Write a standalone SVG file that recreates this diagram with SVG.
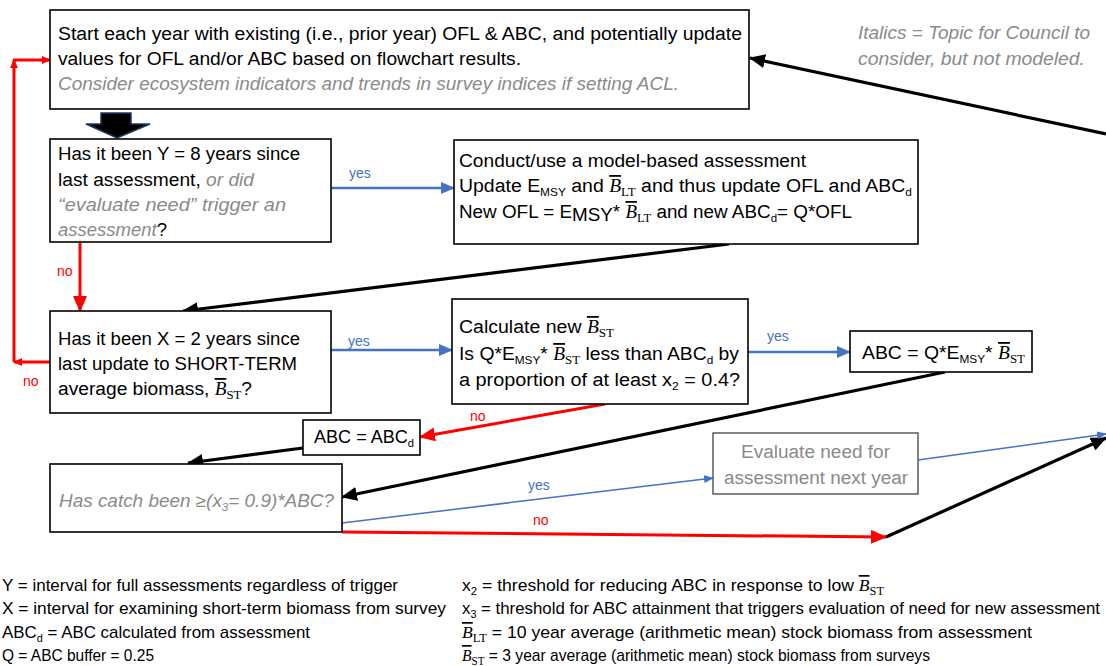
<svg xmlns="http://www.w3.org/2000/svg" width="1106" height="666" viewBox="0 0 1106 666">
<style>
.box{fill:#fff;stroke:#000;stroke-width:1.6}
.t{font-family:"Liberation Sans",Arial,sans-serif;font-size:18px;fill:#000}
.g{fill:#8a8a8a;font-style:italic}
.gr{fill:#8a8a8a}
.bb{font-family:"Liberation Serif","Times New Roman",serif;font-style:italic;text-decoration:overline}
.s{font-size:11px}
.ss{font-family:"Liberation Serif","Times New Roman",serif;font-size:12px;font-style:normal}
.lg{font-family:"Liberation Sans",Arial,sans-serif;font-size:17px;fill:#000}
.yes{font-family:"Liberation Sans",Arial,sans-serif;font-size:14px;fill:#4472C4}
.no{font-family:"Liberation Sans",Arial,sans-serif;font-size:14px;fill:#FF0000}
.k{stroke:#000;stroke-width:3.2;fill:none}
.r{stroke:#FF0000;stroke-width:3;fill:none}
.bl{stroke:#4472C4;stroke-width:2.6;fill:none}
.blt{stroke:#4472C4;stroke-width:1.5;fill:none}
</style>
<defs>
<marker id="ak" markerUnits="userSpaceOnUse" markerWidth="16" markerHeight="14" refX="15" refY="7" orient="auto"><path d="M0,0 L16,7 L0,14 z" fill="#000"/></marker>
<marker id="ar" markerUnits="userSpaceOnUse" markerWidth="16" markerHeight="14" refX="15" refY="7" orient="auto"><path d="M0,0 L16,7 L0,14 z" fill="#FF0000"/></marker>
<marker id="ars" markerUnits="userSpaceOnUse" markerWidth="9" markerHeight="8" refX="8" refY="4" orient="auto"><path d="M0,0 L9,4 L0,8 z" fill="#FF0000"/></marker>
<marker id="ab" markerUnits="userSpaceOnUse" markerWidth="14" markerHeight="12" refX="13" refY="6" orient="auto"><path d="M0,0 L14,6 L0,12 z" fill="#4472C4"/></marker>
<marker id="abs" markerUnits="userSpaceOnUse" markerWidth="10" markerHeight="8" refX="9" refY="4" orient="auto"><path d="M0,0 L10,4 L0,8 z" fill="#4472C4"/></marker>
</defs>

<g id="connectors">
<line class="bl" x1="331" y1="188" x2="454" y2="188" marker-end="url(#ab)"/>
<text class="yes" x="349" y="178">yes</text>
<line class="r" x1="80" y1="242" x2="80" y2="311" marker-end="url(#ar)"/>
<text class="no" x="57" y="276">no</text>
<line class="k" x1="729" y1="244" x2="183" y2="311" marker-end="url(#ak)"/>
<line class="bl" x1="331" y1="350" x2="452" y2="350" marker-end="url(#ab)"/>
<text class="yes" x="348" y="346">yes</text>
<line class="r" x1="50" y1="362" x2="14" y2="362" marker-end="url(#ars)"/>
<line class="r" x1="14" y1="362" x2="14" y2="60" marker-end="url(#ars)"/>
<line class="r" x1="13" y1="60" x2="50" y2="60" marker-end="url(#ars)"/>
<text class="no" x="23" y="386">no</text>
<line class="bl" x1="748" y1="352" x2="850" y2="352" marker-end="url(#ab)"/>
<text class="yes" x="767" y="341">yes</text>
<line class="r" x1="605" y1="404" x2="420" y2="437" marker-end="url(#ar)"/>
<text class="no" x="470" y="421">no</text>
<line class="k" x1="945" y1="372" x2="342" y2="497" marker-end="url(#ak)"/>
<line class="k" x1="303" y1="448" x2="188" y2="463" marker-end="url(#ak)"/>
<line class="blt" x1="342" y1="523" x2="713" y2="478" marker-end="url(#abs)"/>
<text class="yes" x="528" y="490">yes</text>
<line class="r" x1="342" y1="532" x2="886" y2="537" marker-end="url(#ar)"/>
<text class="no" x="533" y="525">no</text>
<line class="k" x1="886" y1="537" x2="1106" y2="438" marker-end="url(#ak)"/>
<line class="blt" x1="918" y1="460" x2="1106" y2="434" marker-end="url(#abs)"/>
<line class="k" x1="1106" y1="134" x2="750" y2="58" marker-end="url(#ak)"/>
<polygon points="101,113 131,113 131,124 150,124 117,138 86,124 101,124" fill="#000" stroke="#1f3864" stroke-width="1.5"/>
</g>

<g id="start">
<rect class="box" x="50" y="10" width="699" height="99"/>
<text class="t" x="58" y="40" textLength="684" lengthAdjust="spacingAndGlyphs">Start each year with existing (i.e., prior year) OFL &amp; ABC, and potentially update</text>
<text class="t" x="58" y="65" textLength="463" lengthAdjust="spacingAndGlyphs">values for OFL and/or ABC based on flowchart results.</text>
<text class="t g" x="58" y="90" textLength="621" lengthAdjust="spacingAndGlyphs">Consider ecosystem indicators and trends in survey indices if setting ACL.</text>
</g>

<g id="q-assessment">
<rect class="box" x="50" y="139" width="281" height="103"/>
<text class="t" x="58" y="160" textLength="242" lengthAdjust="spacingAndGlyphs">Has it been Y = 8 years since</text>
<text class="t" x="58" y="186" textLength="196" lengthAdjust="spacingAndGlyphs">last assessment, <tspan class="g">or did</tspan></text>
<text class="t g" x="58" y="211" textLength="228" lengthAdjust="spacingAndGlyphs">“evaluate need” trigger an</text>
<text class="t" x="58" y="236" textLength="109" lengthAdjust="spacingAndGlyphs"><tspan class="g">assessment</tspan>?</text>
</g>

<g id="conduct">
<rect class="box" x="454" y="140" width="464" height="104"/>
<text class="t" x="459" y="167" textLength="347" lengthAdjust="spacingAndGlyphs">Conduct/use a model-based assessment</text>
<text class="t" x="459" y="192" textLength="453" lengthAdjust="spacingAndGlyphs">Update E<tspan class="s" dy="4">MSY</tspan><tspan dy="-4"> and </tspan><tspan class="bb">B</tspan><tspan class="ss" dy="4">LT</tspan><tspan dy="-4"> and thus update OFL and ABC</tspan><tspan class="s" dy="4">d</tspan></text>
<text class="t" x="459" y="218" textLength="393" lengthAdjust="spacingAndGlyphs">New OFL = E<tspan dy="3">MSY</tspan><tspan dy="-3">* </tspan><tspan class="bb">B</tspan><tspan class="ss" dy="4">LT</tspan><tspan dy="-4"> and new ABC</tspan><tspan class="s" dy="4">d</tspan><tspan dy="-4">= Q*OFL</tspan></text>
</g>

<g id="q-shortterm">
<rect class="box" x="50" y="311" width="281" height="102"/>
<text class="t" x="58" y="345" textLength="242" lengthAdjust="spacingAndGlyphs">Has it been X = 2 years since</text>
<text class="t" x="58" y="370" textLength="239" lengthAdjust="spacingAndGlyphs">last update to SHORT-TERM</text>
<text class="t" x="58" y="395" textLength="194" lengthAdjust="spacingAndGlyphs">average biomass, <tspan class="bb">B</tspan><tspan class="ss" dy="4">ST</tspan><tspan dy="-4">?</tspan></text>
</g>

<g id="calc-bst">
<rect class="box" x="452" y="299" width="296" height="105"/>
<text class="t" x="459" y="333" textLength="155" lengthAdjust="spacingAndGlyphs">Calculate new <tspan class="bb">B</tspan><tspan class="ss" dy="4">ST</tspan></text>
<text class="t" x="459" y="360" textLength="280" lengthAdjust="spacingAndGlyphs">Is Q*E<tspan class="s" dy="4">MSY</tspan><tspan dy="-4">* </tspan><tspan class="bb">B</tspan><tspan class="ss" dy="4">ST</tspan><tspan dy="-4"> less than ABC</tspan><tspan class="s" dy="4">d</tspan><tspan dy="-4"> by</tspan></text>
<text class="t" x="459" y="386" textLength="281" lengthAdjust="spacingAndGlyphs">a proportion of at least x<tspan class="s" dy="4">2</tspan><tspan dy="-4"> = 0.4?</tspan></text>
</g>

<g id="abc-q">
<rect class="box" x="850" y="331" width="182" height="41"/>
<text class="t" x="862" y="359" textLength="163" lengthAdjust="spacingAndGlyphs">ABC = Q*E<tspan class="s" dy="4">MSY</tspan><tspan dy="-4">* </tspan><tspan class="bb">B</tspan><tspan class="ss" dy="4">ST</tspan></text>
</g>

<g id="abc-d">
<rect class="box" x="303" y="420" width="117" height="35"/>
<text class="t" x="314" y="443" textLength="100" lengthAdjust="spacingAndGlyphs">ABC = ABC<tspan class="s" dy="4">d</tspan></text>
</g>

<g id="q-catch">
<rect class="box" x="50" y="464" width="292" height="68"/>
<text class="t g" x="59" y="507" textLength="275" lengthAdjust="spacingAndGlyphs">Has catch been ≥(x<tspan class="s" dy="4">3</tspan><tspan dy="-4">= 0.9)*ABC?</tspan></text>
</g>

<g id="evaluate">
<rect x="713" y="433" width="205" height="61" fill="#fff" stroke="#444" stroke-width="1.3"/>
<text class="t gr" x="741" y="458" textLength="149" lengthAdjust="spacingAndGlyphs">Evaluate need for</text>
<text class="t gr" x="724" y="484" textLength="184" lengthAdjust="spacingAndGlyphs">assessment next year</text>
</g>

<g id="note">
<text class="t g" x="858" y="39" textLength="232" lengthAdjust="spacingAndGlyphs">Italics = Topic for Council to</text>
<text class="t g" x="858" y="65" textLength="227" lengthAdjust="spacingAndGlyphs">consider, but not modeled.</text>
</g>

<g id="legend">
<text class="lg" x="2" y="591" textLength="396" lengthAdjust="spacingAndGlyphs">Y = interval for full assessments regardless of trigger</text>
<text class="lg" x="2" y="614" textLength="444" lengthAdjust="spacingAndGlyphs">X = interval for examining short-term biomass from survey</text>
<text class="lg" x="2" y="638" textLength="308" lengthAdjust="spacingAndGlyphs">ABC<tspan class="s" dy="4">d</tspan><tspan dy="-4"> = ABC calculated from assessment</tspan></text>
<text class="lg" x="2" y="661" textLength="152" lengthAdjust="spacingAndGlyphs">Q = ABC buffer = 0.25</text>
<text class="lg" x="462" y="591" textLength="422" lengthAdjust="spacingAndGlyphs">x<tspan class="s" dy="4">2</tspan><tspan dy="-4"> = threshold for reducing ABC in response to low </tspan><tspan class="bb">B</tspan><tspan class="ss" dy="4">ST</tspan></text>
<text class="lg" x="462" y="614" textLength="638" lengthAdjust="spacingAndGlyphs">x<tspan class="s" dy="4">3</tspan><tspan dy="-4"> = threshold for ABC attainment that triggers evaluation of need for new assessment</tspan></text>
<text class="lg" x="462" y="638" textLength="570" lengthAdjust="spacingAndGlyphs"><tspan class="bb">B</tspan><tspan class="ss" dy="4">LT</tspan><tspan dy="-4"> = 10 year average (arithmetic mean) stock biomass from assessment</tspan></text>
<text class="lg" x="462" y="661" textLength="468" lengthAdjust="spacingAndGlyphs"><tspan class="bb">B</tspan><tspan class="ss" dy="4">ST</tspan><tspan dy="-4"> = 3 year average (arithmetic mean) stock biomass from surveys</tspan></text>
</g>
</svg>
